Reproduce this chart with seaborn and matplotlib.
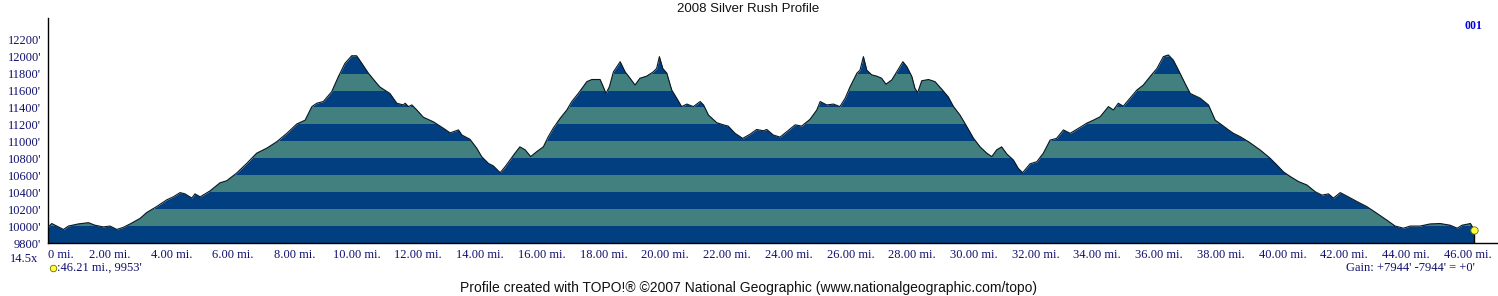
import numpy as np
import pandas as pd
import matplotlib
matplotlib.use("Agg")
import matplotlib.pyplot as plt
import seaborn as sns

# ---- data (miles, feet) ----
miles_a = [0.00, 0.12, 0.50, 0.66, 0.98, 1.31, 1.52, 1.79, 2.01, 2.23, 2.44, 2.66, 2.98,
           3.20, 3.52, 3.85, 4.06, 4.28, 4.44, 4.66, 4.76, 4.93, 5.25, 5.57, 5.79, 6.11,
           6.44, 6.76, 7.09, 7.41, 7.74, 8.06, 8.33, 8.55, 8.71, 8.92, 9.19, 9.41, 9.62,
           9.84, 10.00, 10.17, 10.38, 10.65, 10.76, 11.08, 11.30, 11.51, 11.57, 11.68,
           11.79, 11.95, 12.16, 12.49, 12.81, 13.03, 13.30, 13.41, 13.67, 13.89, 14.05,
           14.27, 14.43, 14.65]
elev_a = [9985, 10030, 9960, 10000, 10025, 10040, 10010, 9990, 10000, 9960, 9985, 10025, 10090,
          10160, 10230, 10310, 10345, 10395, 10380, 10330, 10380, 10345, 10415, 10510, 10535, 10625,
          10740, 10860, 10920, 10995, 11095, 11205, 11250, 11410, 11450, 11470, 11585, 11765, 11920,
          12010, 12010, 11920, 11805, 11685, 11640, 11565, 11450, 11430, 11450, 11410,
          11430, 11370, 11285, 11230, 11155, 11100, 11135, 11075, 11025, 10920, 10820,
          10740, 10710, 10630]

miles_b = [14.81, 14.97, 15.13, 15.29, 15.46, 15.64, 15.84, 16.05, 16.21, 16.37, 16.59, 16.81,
           16.97, 17.18, 17.46, 17.62, 17.89, 17.99, 18.08, 18.19, 18.32, 18.54, 18.70, 18.86,
           19.02, 19.18, 19.40, 19.61, 19.72, 19.81, 19.92, 20.05, 20.21, 20.37, 20.53, 20.70,
           20.91, 21.13, 21.24, 21.40, 21.67, 21.88, 22.04, 22.26, 22.51, 22.75, 22.96, 23.18,
           23.29, 23.50, 23.72, 23.94, 24.21, 24.42, 24.69, 24.91, 25.02, 25.23, 25.45, 25.66,
           25.83, 25.99, 26.21, 26.31, 26.42, 26.53, 26.69, 26.85, 27.01, 27.15, 27.34, 27.50,
           27.70, 27.83, 27.99, 28.09, 28.18, 28.31, 28.53, 28.74, 28.96, 29.17, 29.34, 29.55,
           29.77, 29.99, 30.20, 30.42, 30.58, 30.74, 30.90, 31.07, 31.28, 31.44, 31.58]
elev_b = [10700, 10780, 10860, 10935, 10900, 10820, 10880, 10935, 11055, 11155, 11270, 11370,
          11470, 11565, 11705, 11730, 11730, 11645, 11565, 11645, 11820, 11940, 11820, 11745,
          11665, 11745, 11770, 11820, 11860, 12000, 11860, 11805, 11605, 11510, 11410, 11440,
          11410, 11470, 11430, 11310, 11220, 11195, 11180, 11095, 11035, 11085, 11140, 11125,
          11140, 11075, 11050, 11115, 11195, 11180, 11260, 11370, 11470, 11430, 11440, 11410,
          11510, 11645, 11805, 11840, 12000, 11840, 11785, 11770, 11745, 11675, 11725, 11820,
          11940, 11880, 11765, 11625, 11575, 11715, 11730, 11705, 11615, 11525, 11410, 11310,
          11175, 11035, 10935, 10860, 10820, 10900, 10935, 10850, 10780, 10680, 10630]

miles_c = [31.82, 32.04, 32.25, 32.47, 32.68, 32.90, 33.12, 33.44, 33.66, 33.87, 34.09, 34.36,
           34.52, 34.68, 34.84, 35.06, 35.28, 35.49, 35.71, 35.93, 36.14, 36.30, 36.46, 36.63,
           36.84, 37.01, 37.33, 37.60, 37.82, 38.03, 38.25, 38.41, 38.63, 38.90, 39.27, 39.60,
           39.82, 40.03, 40.25, 40.52, 40.79, 41.06, 41.28, 41.49, 41.65, 41.87, 42.08, 42.41,
           42.73, 43.06, 43.38, 43.65, 43.92, 44.14, 44.46, 44.78, 45.11, 45.43, 45.66, 45.82,
           46.09, 46.21]
elev_c = [10735, 10760, 10860, 11015, 11035, 11135, 11095, 11165, 11215, 11250, 11290, 11410,
          11370, 11450, 11415, 11510, 11605, 11665, 11765, 11860, 12000, 12020, 11960, 11840,
          11685, 11565, 11510, 11430, 11250, 11195, 11135, 11095, 11055, 10995, 10900, 10800,
          10720, 10640, 10585, 10525, 10485, 10405, 10365, 10380, 10330, 10395, 10355, 10290,
          10230, 10150, 10070, 10000, 9975, 10000, 10000, 10025, 10030, 10010, 9975, 10010,
          10030, 9953]

x_ticks = list(range(0, 47, 2))
x_tick_labels = ["0 mi."] + [f"{v:.2f} mi." for v in x_ticks[1:]]
y_ticks = list(range(9800, 12201, 200))
y_tick_labels = [f"{v}'" for v in y_ticks]

title_text = "2008 Silver Rush Profile"
footer_text = "Profile created with TOPO!\u00ae \u00a92007 National Geographic (www.nationalgeographic.com/topo)"
cursor_text = ":46.21 mi., 9953'"
gain_text = "Gain: +7944' -7944' = +0'"
scale_text = "14.5x"
page_text = "001"

# ---- styling ----
DARK = "#023f80"
TEAL = "#41807f"
NAVY = "#10106e"
W, H = 1498, 296

sns.set_style("white")
plt.rcParams["font.family"] = ["Liberation Serif", "DejaVu Serif"]

df = pd.DataFrame({"mi": miles_a + miles_b + miles_c, "ft": elev_a + elev_b + elev_c})

fig = plt.figure(figsize=(W / 100, H / 100), dpi=100)
ax = fig.add_axes([48 / W, 53 / H, 1449 / W, 225 / H])

base = y_ticks[0]
poly = ax.fill_between(df["mi"], base, df["ft"], color=DARK, lw=0, zorder=1)
clip = poly.get_paths()[0]
for lo in range(base + 200, 12400, 400):
    span = ax.axhspan(lo, lo + 200, color=TEAL, lw=0, zorder=2)
    span.set_clip_path(clip, ax.transData)

sns.lineplot(data=df, x="mi", y="ft", ax=ax, color="#0b1822", lw=0.8,
             sort=False, estimator=None, zorder=3)

end_mi, end_ft = df["mi"].iloc[-1], df["ft"].iloc[-1]
ax.plot([end_mi, end_mi], [base, end_ft], color="black", lw=1.0, zorder=4)
ax.scatter([end_mi], [end_ft], s=28, color="#ffff40", edgecolors="#6b6b00",
           linewidths=0.6, zorder=5, clip_on=False)

ax.set_xlim(0, 46.95)
ax.set_ylim(9800, 12456)
ax.set_xticks(x_ticks, x_tick_labels)
ax.set_yticks(y_ticks, y_tick_labels)
ax.tick_params(axis="both", length=0, labelsize=9, labelcolor=NAVY)
ax.tick_params(axis="x", pad=4)
ax.tick_params(axis="y", pad=5)
ax.get_xticklabels()[0].set_horizontalalignment("left")
ax.set_xlabel("")
ax.set_ylabel("")
sns.despine(ax=ax, top=True, right=True)
for s in ("left", "bottom"):
    ax.spines[s].set_color("black")
    ax.spines[s].set_linewidth(1.0)

sans = ["Liberation Sans", "DejaVu Sans"]
fig.text(748 / W, 1 - 9 / H, title_text, ha="center", va="center", fontsize=9.5,
         family=sans, color="#111111")
fig.text(748 / W, 1 - 288 / H, footer_text, ha="center", va="center", fontsize=10,
         family=sans, color="#111111")
fig.text(1473 / W, 1 - 26 / H, page_text, ha="center", va="center", fontsize=8.5,
         fontweight="bold", color="#0000e0")
fig.text(38 / W, 1 - 259 / H, scale_text, ha="right", va="center", fontsize=9, color=NAVY)
fig.text(57 / W, 1 - 268 / H, cursor_text, ha="left", va="center", fontsize=9, color=NAVY)
fig.text(1475 / W, 1 - 268 / H, gain_text, ha="right", va="center", fontsize=9, color=NAVY)

dot_ax = fig.add_axes([0, 0, 1, 1], facecolor="none")
dot_ax.set_xlim(0, W)
dot_ax.set_ylim(H, 0)
dot_ax.axis("off")
dot_ax.scatter([53], [268], s=22, color="#ffff40", edgecolors="#6b6b00", linewidths=0.6)

fig.savefig("out.png", dpi=100)
